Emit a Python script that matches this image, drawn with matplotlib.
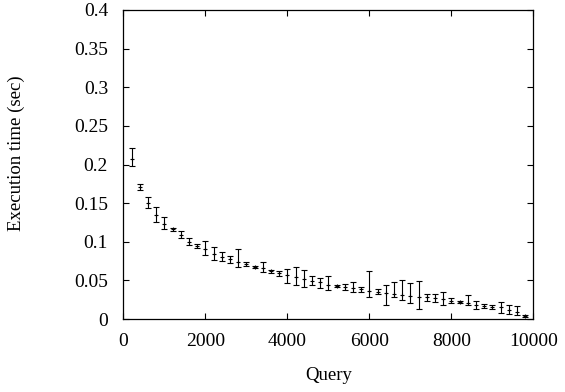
import matplotlib
matplotlib.use('Agg')
import matplotlib.pyplot as plt

plt.rcParams['font.family'] = ['Liberation Serif', 'DejaVu Serif']

# query counts
queries = list(range(200, 10000, 200))

# mean execution time (sec)
times = [0.207, 0.171, 0.150, 0.134, 0.123, 0.116, 0.109, 0.100, 0.0945, 0.090,
         0.0846, 0.0807, 0.0772, 0.0734, 0.0708, 0.0673, 0.0665, 0.0617, 0.0591, 0.057,
         0.0548, 0.0518, 0.0492, 0.0475, 0.044, 0.0427, 0.041, 0.0397, 0.0384, 0.0367,
         0.0354, 0.034, 0.0326, 0.031, 0.0298, 0.028, 0.028, 0.0272, 0.0255, 0.0237,
         0.022, 0.0211, 0.018, 0.0168, 0.016, 0.0151, 0.0117, 0.0095, 0.0039]

# error bar top / bottom
err_hi = [0.221, 0.1748, 0.1575, 0.1454, 0.1325, 0.118, 0.1143, 0.105, 0.0965, 0.1006,
          0.0928, 0.0872, 0.0812, 0.0906, 0.0735, 0.069, 0.0742, 0.0635, 0.062, 0.0651,
          0.0677, 0.0634, 0.0557, 0.0527, 0.0557, 0.0445, 0.0453, 0.0475, 0.0418, 0.0626,
          0.0384, 0.0437, 0.0475, 0.0500, 0.0462, 0.0496, 0.0324, 0.0319, 0.0354, 0.0267,
          0.023, 0.031, 0.0237, 0.0193, 0.0185, 0.0216, 0.018, 0.0168, 0.005]
err_lo = [0.198, 0.167, 0.1437, 0.126, 0.116, 0.114, 0.1045, 0.096, 0.0925, 0.0828,
          0.0764, 0.0755, 0.0725, 0.0669, 0.0681, 0.0656, 0.0613, 0.0599, 0.0562, 0.047,
          0.044, 0.0418, 0.0436, 0.0401, 0.0375, 0.041, 0.0375, 0.035, 0.035, 0.0289,
          0.0324, 0.018, 0.028, 0.025, 0.0211, 0.0126, 0.0237, 0.0225, 0.0181, 0.0207,
          0.021, 0.018, 0.0126, 0.0143, 0.0135, 0.0082, 0.0065, 0.0052, 0.003]

lower = [t - lo for t, lo in zip(times, err_lo)]
upper = [hi - t for t, hi in zip(times, err_hi)]

fig = plt.figure(figsize=(5.65, 3.92), dpi=100)
ax = fig.add_axes([0.2183, 0.1862, 0.7257, 0.7883])

ax.errorbar(queries, times, yerr=[lower, upper], fmt='+', color='black',
            ms=3, mew=0.8, elinewidth=0.8, capsize=2.5, capthick=0.8)

ax.set_xlim(0, 10000)
ax.set_ylim(0, 0.4)
ax.set_xticks([0, 2000, 4000, 6000, 8000, 10000])
ax.set_yticks([0, 0.05, 0.1, 0.15, 0.2, 0.25, 0.3, 0.35, 0.4])
ax.set_yticklabels(['0', '0.05', '0.1', '0.15', '0.2', '0.25', '0.3', '0.35', '0.4'])
ax.tick_params(direction='in', top=True, right=True, length=4, width=0.8,
               labelsize=14)
ax.tick_params(axis='x', pad=10)
ax.tick_params(axis='y', pad=11)
for s in ax.spines.values():
    s.set_linewidth(0.9)

ax.set_xlabel('Query', fontsize=13.5)
ax.set_ylabel('Execution time (sec)', fontsize=13.5)
ax.xaxis.set_label_coords(0.5, -0.155)
ax.yaxis.set_label_coords(-0.24, 0.537)

fig.savefig('out.png', dpi=100)
